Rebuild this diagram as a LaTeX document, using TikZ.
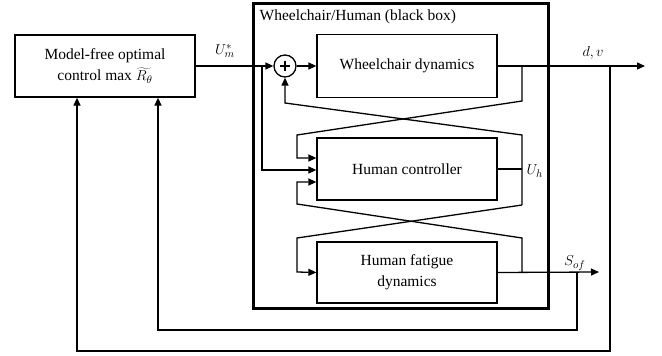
\documentclass[tikz,border=0pt]{standalone}
\usepackage{fontspec}
\setmainfont{Liberation Serif}
\usetikzlibrary{arrows.meta,calc}
\begin{document}
\begin{tikzpicture}[x=1pt,y=-1pt, line width=1.3pt,
  >={Triangle[length=8pt,width=7pt]},
  blk/.style={draw, line width=1.3pt, inner sep=0pt, align=center,
    font=\fontsize{15.5}{21}\selectfont},
  lbl/.style={inner sep=0pt, font=\fontsize{15.5}{18}\selectfont}]
\useasboundingbox (0,0) rectangle (662,356);
% blocks
\node[blk, minimum width=180pt, minimum height=62pt] (mf) at (105,66)
  {Model-free optimal\\control max $\widetilde{R_\theta}$};
\node[draw, line width=3pt, minimum width=295pt, minimum height=305pt, inner sep=0pt] (bb) at (400.5,155.5) {};
\node[lbl, anchor=west] (bbt) at (259,17) {Wheelchair/Human (black box)};
\node[blk, minimum width=180pt, minimum height=63pt] (wd) at (407,66) {Wheelchair dynamics};
\node[blk, minimum width=180pt, minimum height=62pt] (hc) at (407,169) {Human controller};
\node[blk, minimum width=180pt, minimum height=61pt] (hf) at (407,272.5) {Human fatigue\\dynamics};
\node[draw, circle, minimum size=22pt, inner sep=0pt, line width=1.3pt] (sum) at (285,66) {};
\draw[line width=1.6pt] ($(sum)+(-5,0)$) -- ($(sum)+(5,0)$) ($(sum)+(0,-5)$) -- ($(sum)+(0,5)$);
% coordinates
\coordinate (jm) at (262,66);
\coordinate (j1) at (522,66);
\coordinate (jh) at (522,169);
\coordinate (jf) at (522,272);
\coordinate (out1) at (645,66);
\coordinate (out2) at (599,272);
\coordinate (fb1) at (610,66);
\coordinate (fb2) at (577,272);
\coordinate (hcin1) at (hc.west |- 0,158);
\coordinate (hcin2) at (hc.west |- 0,170);
\coordinate (hcin3) at (hc.west |- 0,182);
\coordinate (mfin1) at (mf.south -| 77,0);
\coordinate (mfin2) at (mf.south -| 158,0);
% connectors
\draw[->] (mf.east) -- (sum.west);
\draw[->] (jm) |- (hcin2);
\draw[->] (sum.east) -- (wd.west);
\draw[->] (wd.east) -- (out1);
\draw[->] (j1) -- (522,101) -- (297,135) -- (297,158) -- (hcin1);
\draw (hc.east) -- (jh);
\draw[->] (522,205) -- (522,135) -- (285,103) -- (sum.south);
\draw[->] (522,205) -- (297,238) -- (297,272) -- (hf.west);
\draw[->] (hf.east) -- (out2);
\draw[->] (jf) -- (522,238) -- (297,204) -- (297,182) -- (hcin3);
\draw[->] (fb1) -- (610,351) -- (77,351) -- (mfin1);
\draw[->] (fb2) -- (577,330) -- (158,330) -- (mfin2);
% labels
\node[lbl] (lum) at (225,51) {$U_m^*$};
\node[lbl] (ldv) at (593,53) {$d,v$};
\node[lbl, anchor=west] (luh) at (526,171) {$U_h$};
\node[lbl] (lsof) at (575,263) {$S_{of}$};
\end{tikzpicture}
\end{document}
